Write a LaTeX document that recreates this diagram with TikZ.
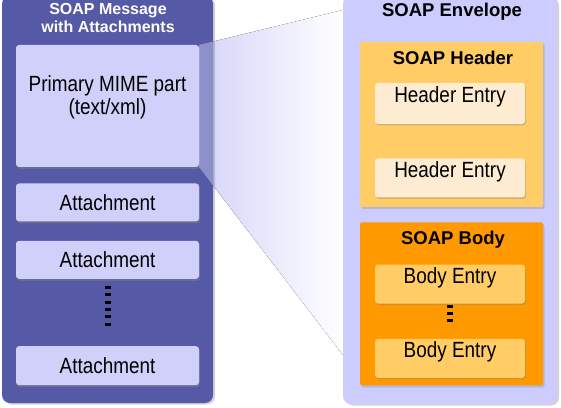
\documentclass[tikz,border=0pt]{standalone}
\usepackage{fontspec}
\setmainfont{Liberation Sans}
\newfontfamily\narrowfont{Liberation Sans}[FakeStretch=0.86]
\usepackage{xcolor}
\usetikzlibrary{positioning, shadows, calc}
\definecolor{msgblue}{RGB}{85,89,166}
\definecolor{partblue}{RGB}{208,208,250}
\definecolor{envblue}{RGB}{204,204,255}
\definecolor{funnelblue}{RGB}{212,212,249}
\definecolor{hdrorange}{RGB}{255,204,102}
\definecolor{bodyorange}{RGB}{255,153,0}
\definecolor{cream}{RGB}{253,236,210}

\begin{document}
\begin{tikzpicture}[x=1pt, y=1pt]
\tikzstyle{panel} = [rectangle, rounded corners=8pt, inner sep=0pt, drop shadow={shadow xshift=2pt, shadow yshift=-1.5pt, opacity=0.35}]
\tikzstyle{part} = [rectangle, rounded corners=3pt, minimum width=183pt, inner sep=0pt, fill=partblue, font=\narrowfont\fontsize{22}{23}\selectfont, drop shadow={shadow xshift=1pt, shadow yshift=-2pt, opacity=0.5}]
\tikzstyle{block} = [rectangle, rounded corners=2pt, minimum width=183pt, inner sep=0pt, drop shadow={shadow xshift=1.5pt, shadow yshift=-2pt, opacity=0.3}]
\tikzstyle{entry} = [rectangle, rounded corners=3pt, minimum width=150pt, inner sep=0pt, text height=19pt, text depth=20pt, fill=cream, font=\narrowfont\fontsize{22}{23}\selectfont, drop shadow={shadow xshift=1pt, shadow yshift=-1.5pt, opacity=0.35}]
\tikzstyle{title} = [font=\bfseries\fontsize{18.5}{20}\selectfont]
\tikzstyle{dots} = [line width=6pt, dash pattern=on 3pt off 4.3pt]

\useasboundingbox (0,0) rectangle (561,407);

\coordinate (ptop) at (199,362);
\coordinate (pbot) at (199,240);
\coordinate (ftop) at (343,397);
\coordinate (fbot) at (343,52);
\fill [left color=funnelblue, right color=white] (ptop) -- (ftop) -- (fbot) -- (pbot) -- cycle;

\node (env) [panel, fill=envblue, minimum width=214pt, minimum height=408pt] at (450,207) {};
\node (envtitle) [title] at (452,395) {SOAP Envelope};

\node (msg) [panel, fill=msgblue, minimum width=211pt, minimum height=407pt] at (107.5,207.5) {};
\node (msgtitle) [align=center, text=white, font=\bfseries\fontsize{16}{18}\selectfont] at (108,389) {SOAP Message\\with Attachments};
\node (prim) [part, align=center, text height=70pt, text depth=52pt] at (107.5,301) {Primary MIME part\\(text/xml)};
\node (att1) [part, minimum height=38pt, below=16pt of prim] {Attachment};
\node (att2) [part, minimum height=38pt, below=19pt of att1] {Attachment};
\node (att3) [part, minimum height=39pt, below=67pt of att2] {Attachment};
\draw [dots, shorten <=7pt, shorten >=17pt] (att2) -- (att3);

\fill [funnelblue, fill opacity=0.45] (prim.north east) -- ($(ptop)!0.097!(ftop)$) -- ($(pbot)!0.097!(fbot)$) -- (prim.south east) -- cycle;

\node (hdr) [block, fill=hdrorange, minimum height=165pt] at (451.5,282.5) {};
\node (hdrtitle) [title] at (453,349) {SOAP Header};
\node (he1) [entry, minimum height=41pt] at (450,303.5) {Header Entry};
\node (he2) [entry, minimum height=39pt, below=34pt of he1] {Header Entry};

\node (body) [block, fill=bodyorange, minimum height=163pt, below=15pt of hdr] {};
\node (bodytitle) [title] at (453,167) {SOAP Body};
\node (be1) [entry, fill=hdrorange, minimum height=38pt] at (450,123) {Body Entry};
\node (be2) [entry, fill=hdrorange, minimum height=39pt, below=35pt of be1] {Body Entry};
\draw [dots, shorten <=1pt, shorten >=13pt] (be1) -- (be2);

\end{tikzpicture}
\end{document}
